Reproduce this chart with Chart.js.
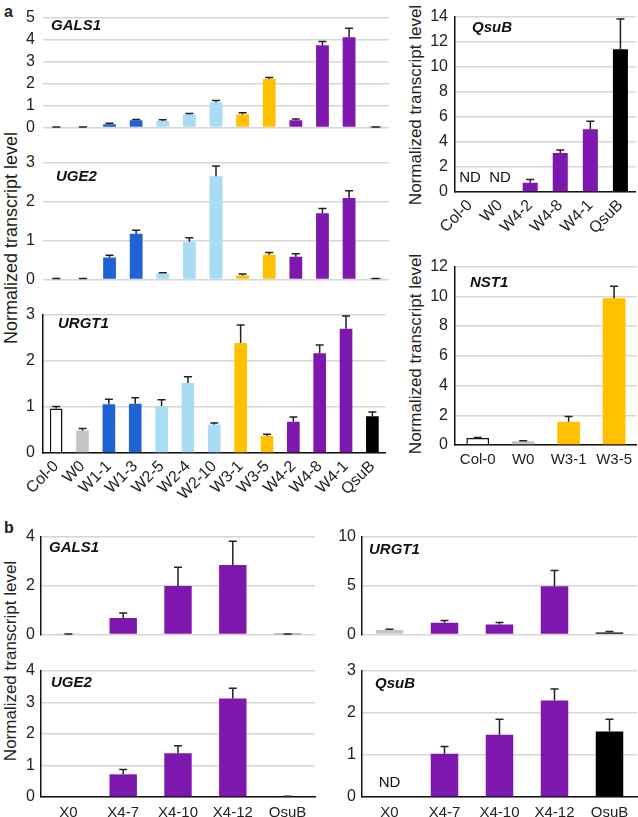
<!DOCTYPE html>
<html>
<head>
<meta charset="utf-8">
<script src="https://cdn.jsdelivr.net/npm/chart.js@4.4.1/dist/chart.umd.min.js"></script>
<style>
    body { margin: 0; background: #fff; }
    #fig { position: relative; width: 638px; height: 817px; font-family: "Liberation Sans", Arial, sans-serif; color: #222; }
    canvas { position: absolute; }
    .ytitle { position: absolute; font-size: 17px; white-space: nowrap; transform: translate(-50%, -50%) rotate(-90deg); }
    .letter { position: absolute; font-size: 16px; font-weight: bold; line-height: 1; }
</style>
</head>
<body>
<div id="fig">
    <div class="letter" style="left:4px; top:4px">a</div>
    <div class="letter" style="left:4px; top:520px">b</div>
    <div class="ytitle" style="left:11px; top:238px; font-size:18px">Normalized transcript level</div>
    <div class="ytitle" style="left:416px; top:105px">Normalized transcript level</div>
    <div class="ytitle" style="left:416px; top:354px">Normalized transcript level</div>
    <div class="ytitle" style="left:11px; top:661px">Normalized transcript level</div>

    <canvas id="aGals" width="390" height="145" style="left:0; top:0"></canvas>
    <canvas id="aUge" width="390" height="152" style="left:0; top:145px"></canvas>
    <canvas id="aUrgt" width="390" height="205" style="left:0; top:295px"></canvas>
    <canvas id="aQsub" width="243" height="250" style="left:395px; top:0"></canvas>
    <canvas id="aNst" width="243" height="230" style="left:395px; top:250px"></canvas>
    <canvas id="bGals" width="318" height="130" style="left:0; top:520px"></canvas>
    <canvas id="bUge" width="318" height="167" style="left:0; top:650px"></canvas>
    <canvas id="bUrgt" width="318" height="130" style="left:320px; top:520px"></canvas>
    <canvas id="bQsub" width="318" height="167" style="left:320px; top:650px"></canvas>
</div>
<script>
// panel a, left column
const aLines = ['Col-0', 'W0', 'W1-1', 'W1-3', 'W2-5', 'W2-4', 'W2-10', 'W3-1', 'W3-5', 'W4-2', 'W4-8', 'W4-1', 'QsuB'];
const aGals = [0.01, 0.01, 0.14, 0.32, 0.29, 0.59, 1.15, 0.59, 2.2, 0.32, 3.74, 4.1, 0.01];
const aGalsErr = [0.01, 0.01, 0.05, 0.04, 0.06, 0.04, 0.07, 0.08, 0.07, 0.06, 0.17, 0.42, 0.01];
const aUge = [0.01, 0.01, 0.56, 1.17, 0.15, 0.97, 2.65, 0.1, 0.63, 0.58, 1.7, 2.09, 0.01];
const aUgeErr = [0.01, 0.01, 0.06, 0.09, 0.02, 0.1, 0.26, 0.04, 0.06, 0.08, 0.12, 0.19, 0.01];
const aUrgt = [0.97, 0.49, 1.06, 1.07, 1.02, 1.52, 0.62, 2.39, 0.37, 0.68, 2.17, 2.7, 0.8];
const aUrgtErr = [0.04, 0.04, 0.11, 0.13, 0.14, 0.14, 0.03, 0.39, 0.04, 0.1, 0.18, 0.28, 0.09];

// panel a, right column (null = ND)
const aQsubLines = ['Col-0', 'W0', 'W4-2', 'W4-8', 'W4-1', 'QsuB'];
const aQsub = [null, null, 0.73, 3.12, 5.0, 11.4];
const aQsubErr = [null, null, 0.27, 0.23, 0.65, 2.4];
const aNstLines = ['Col-0', 'W0', 'W3-1', 'W3-5'];
const aNst = [0.47, 0.25, 1.56, 9.87];
const aNstErr = [0.04, 0.04, 0.36, 0.8];

// panel b
const bLines = ['X0', 'X4-7', 'X4-10', 'X4-12', 'QsuB'];
const bGals = [0.01, 0.67, 1.99, 2.85, 0.01];
const bGalsErr = [0.01, 0.21, 0.77, 0.98, 0.01];
const bUge = [0, 0.72, 1.39, 3.13, 0.01];
const bUgeErr = [null, 0.15, 0.24, 0.32, 0.01];
const bUrgt = [0.46, 1.19, 1.02, 4.95, 0.2];
const bUrgtErr = [0.07, 0.23, 0.2, 1.62, 0.1];
const bQsub = [null, 1.03, 1.48, 2.3, 1.56];
const bQsubErr = [null, 0.17, 0.37, 0.27, 0.29];

const FONT = '"Liberation Sans", Arial, sans-serif';

function fillFor(line) {
    if (line === 'Col-0') return '#ffffff';
    if (line === 'W0' || line === 'X0') return '#c4c4c4';
    if (line.startsWith('W1')) return '#1f62d3';
    if (line.startsWith('W2')) return '#a8dbf4';
    if (line.startsWith('W3')) return '#ffc000';
    if (line.startsWith('W4') || line.startsWith('X4')) return '#7e17ad';
    return '#000000';
}

// upward error bars
const errorBars = {
    id: 'errorBars',
    afterDatasetsDraw(chart, args, opts) {
        const errs = opts.errors;
        if (!errs) return;
        const values = chart.data.datasets[0].data;
        const yScale = chart.scales.y;
        const ctx = chart.ctx;
        ctx.save();
        ctx.strokeStyle = '#222';
        ctx.lineWidth = 1.5;
        chart.getDatasetMeta(0).data.forEach((bar, i) => {
            if (values[i] == null || errs[i] == null) return;
            const y0 = yScale.getPixelForValue(values[i]);
            const y1 = yScale.getPixelForValue(values[i] + errs[i]);
            ctx.beginPath();
            ctx.moveTo(bar.x, y0);
            ctx.lineTo(bar.x, y1);
            ctx.moveTo(bar.x - 4, y1);
            ctx.lineTo(bar.x + 4, y1);
            ctx.stroke();
        });
        ctx.restore();
    }
};

// gene name in the corner and ND marks for missing values
const panelText = {
    id: 'panelText',
    afterDraw(chart, args, opts) {
        const ctx = chart.ctx;
        const area = chart.chartArea;
        ctx.save();
        ctx.fillStyle = '#111';
        ctx.textBaseline = 'middle';
        if (opts.gene) {
            ctx.font = 'italic bold 15px ' + FONT;
            ctx.textAlign = 'left';
            ctx.fillText(opts.gene, area.left + opts.dx, area.top + opts.dy);
        }
        ctx.font = '15px ' + FONT;
        ctx.textAlign = 'center';
        const zero = chart.scales.y.getPixelForValue(0);
        chart.data.datasets[0].data.forEach((v, i) => {
            if (v === null) ctx.fillText('ND', chart.scales.x.getPixelForValue(i), zero - 14);
        });
        ctx.restore();
    }
};

function barChart(id, o) {
    return new Chart(document.getElementById(id), {
        type: 'bar',
        data: {
            labels: o.labels,
            datasets: [{
                data: o.values,
                backgroundColor: o.labels.map(fillFor),
                borderColor: o.labels.map(l => l === 'Col-0' ? '#111' : fillFor(l)),
                borderWidth: o.labels.map(l => l === 'Col-0' ? 1.5 : 0),
                barPercentage: o.barPct || 0.48,
                categoryPercentage: 1
            }]
        },
        options: {
            responsive: false,
            animation: false,
            devicePixelRatio: 1,
            layout: { padding: o.pad },
            plugins: {
                legend: { display: false },
                tooltip: { enabled: false },
                errorBars: { errors: o.errors },
                panelText: { gene: o.gene, dx: o.gx, dy: o.gy }
            },
            scales: {
                x: {
                    grid: { display: false, drawTicks: false },
                    border: { display: o.xLine, color: '#111', width: 1.5 },
                    ticks: {
                        display: o.xTicks,
                        autoSkip: false,
                        minRotation: o.rot || 0,
                        maxRotation: o.rot || 0,
                        padding: o.xPad || 5,
                        color: '#222',
                        font: { family: FONT, size: o.rot ? 16 : 15 }
                    },
                    afterFit: s => { s.height = o.xH; }
                },
                y: {
                    min: 0,
                    max: o.max,
                    ticks: { stepSize: o.step, padding: o.yPad, color: '#222', font: { family: FONT, size: 16 } },
                    grid: { color: '#d6d6d6', lineWidth: 1.5, drawTicks: false },
                    border: { display: o.yLine, color: '#111', width: 1.5 },
                    afterFit: s => { s.width = o.yW; }
                }
            }
        },
        plugins: [errorBars, panelText]
    });
}

barChart('aGals', { labels: aLines, values: aGals, errors: aGalsErr, gene: 'GALS1', gx: 8, gy: 8,
    max: 5, step: 1, pad: { top: 14, right: 1 }, yW: 43, xH: 12, yPad: 8, xTicks: false, xLine: false, yLine: false });
barChart('aUge', { labels: aLines, values: aUge, errors: aUgeErr, gene: 'UGE2', gx: 13, gy: 14,
    max: 3, step: 1, pad: { top: 14, right: 1 }, yW: 43, xH: 11, yPad: 8, xTicks: false, xLine: false, yLine: false });
barChart('aUrgt', { labels: aLines, values: aUrgt, errors: aUrgtErr, gene: 'URGT1', gx: 15, gy: 9,
    max: 3, step: 1, pad: { top: 20, right: 1 }, yW: 43, xH: 47, yPad: 8, xTicks: true, rot: 45, xPad: 4, xLine: true, yLine: true });
barChart('aQsub', { labels: aQsubLines, values: aQsub, errors: aQsubErr, gene: 'QsuB', gx: 17, gy: 11, barPct: 0.5,
    max: 14, step: 2, pad: { top: 14, right: 0 }, yW: 60, xH: 58, yPad: 7, xTicks: true, rot: 45, xPad: 4, xLine: true, yLine: true });
barChart('aNst', { labels: aNstLines, values: aNst, errors: aNstErr, gene: 'NST1', gx: 15, gy: 16, barPct: 0.5,
    max: 12, step: 2, pad: { top: 16, right: 0 }, yW: 60, xH: 35, yPad: 7, xTicks: true, xPad: 6, xLine: true, yLine: true });
barChart('bGals', { labels: bLines, values: bGals, errors: bGalsErr, gene: 'GALS1', gx: 8, gy: 11, barPct: 0.5,
    max: 4, step: 2, pad: { top: 17, right: 3 }, yW: 41, xH: 12, yPad: 6, xTicks: false, xLine: false, yLine: true });
barChart('bUge', { labels: bLines, values: bUge, errors: bUgeErr, gene: 'UGE2', gx: 10, gy: 12, barPct: 0.5,
    max: 4, step: 1, pad: { top: 21, right: 3 }, yW: 41, xH: 20, yPad: 6, xTicks: true, xPad: 7, xLine: true, yLine: true });
barChart('bUrgt', { labels: bLines, values: bUrgt, errors: bUrgtErr, gene: 'URGT1', gx: 7, gy: 13, barPct: 0.5,
    max: 10, step: 5, pad: { top: 17, right: 1 }, yW: 42, xH: 12, yPad: 6, xTicks: false, xLine: false, yLine: true });
barChart('bQsub', { labels: bLines, values: bQsub, errors: bQsubErr, gene: 'QsuB', gx: 13, gy: 13, barPct: 0.5,
    max: 3, step: 1, pad: { top: 21, right: 1 }, yW: 42, xH: 20, yPad: 6, xTicks: true, xPad: 7, xLine: true, yLine: true });
</script>
</body>
</html>
